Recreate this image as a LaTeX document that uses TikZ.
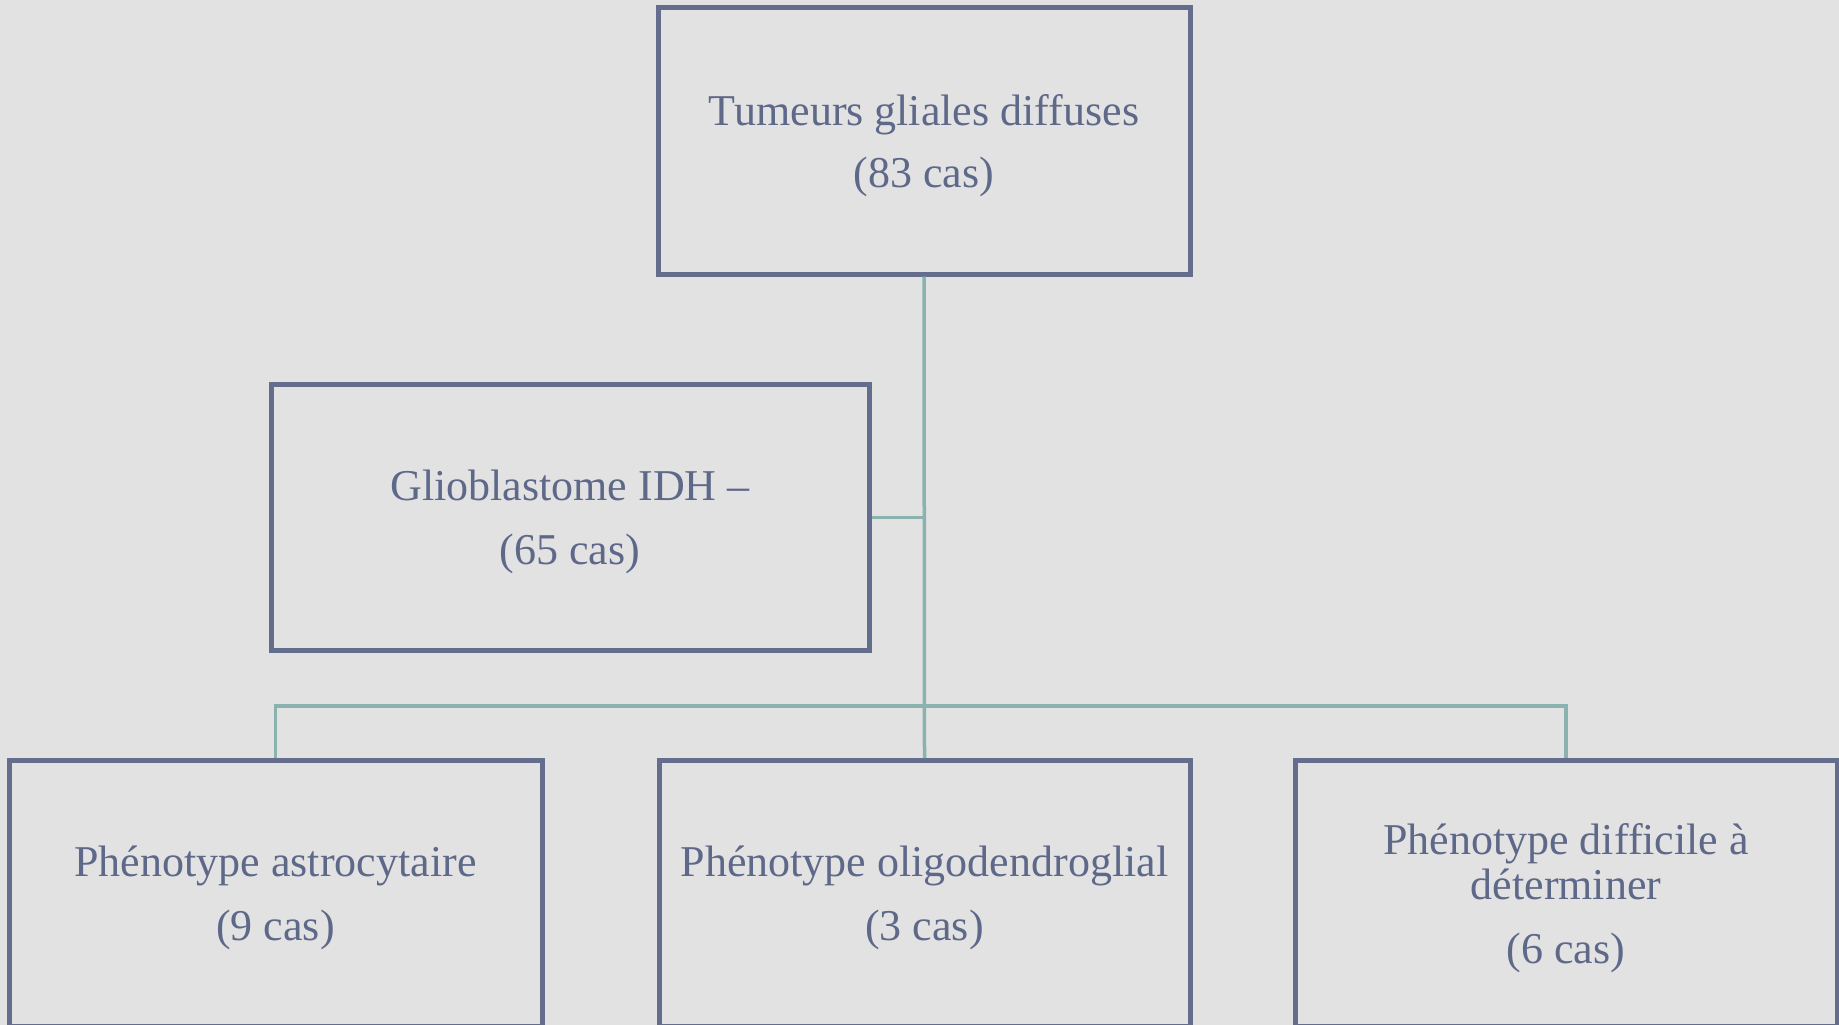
\documentclass[tikz,border=0pt]{standalone}
\usepackage{fontspec}
\setmainfont{Liberation Serif}
\definecolor{bgc}{HTML}{E2E2E2}
\definecolor{boxc}{HTML}{646E8C}
\definecolor{txtc}{HTML}{5E6889}
\definecolor{linkc}{HTML}{8AB2AE}
\newcommand\mytopstrut{\rule{0pt}{40pt}}
\begin{document}
\begin{tikzpicture}[x=1pt,y=-1pt,
  box/.style={draw=boxc, line width=5pt, text=txtc, align=center,
    minimum width=#1, minimum height=266, inner sep=0pt,
    font=\fontsize{44}{45}\selectfont},
  link/.style={draw=linkc, line width=3.5pt}]
\fill[bgc] (0,0) rectangle (1839,1025);
\useasboundingbox (0,0) rectangle (1839,1025);
\clip (0,0) rectangle (1839,1025);
\node[box=532] (top) at (924,141) {\mytopstrut Tumeurs gliales diffuses\\[17pt](83 cas)};
\node[box=598] (glio) at (570,517.5) {\mytopstrut Glioblastome IDH --\\[19pt](65 cas)};
\node[box=533] (astro) at (275.5,893.5) {\mytopstrut Phénotype astrocytaire\\[19pt](9 cas)};
\node[box=531] (oligo) at (924.5,893.5) {\mytopstrut Phénotype oligodendroglial\\[19pt](3 cas)};
\node[box=542] (diff) at (1566,893.5) {\mytopstrut Phénotype difficile à\\déterminer\\[19pt](6 cas)};
\coordinate (bus) at (924,706);
\draw[link] (top.south) -- (oligo.north);
\draw[link] (glio.east) -- (glio.east -| top.south);
\draw[link] (astro.north) |- (bus) -| (diff.north);
\end{tikzpicture}
\end{document}
